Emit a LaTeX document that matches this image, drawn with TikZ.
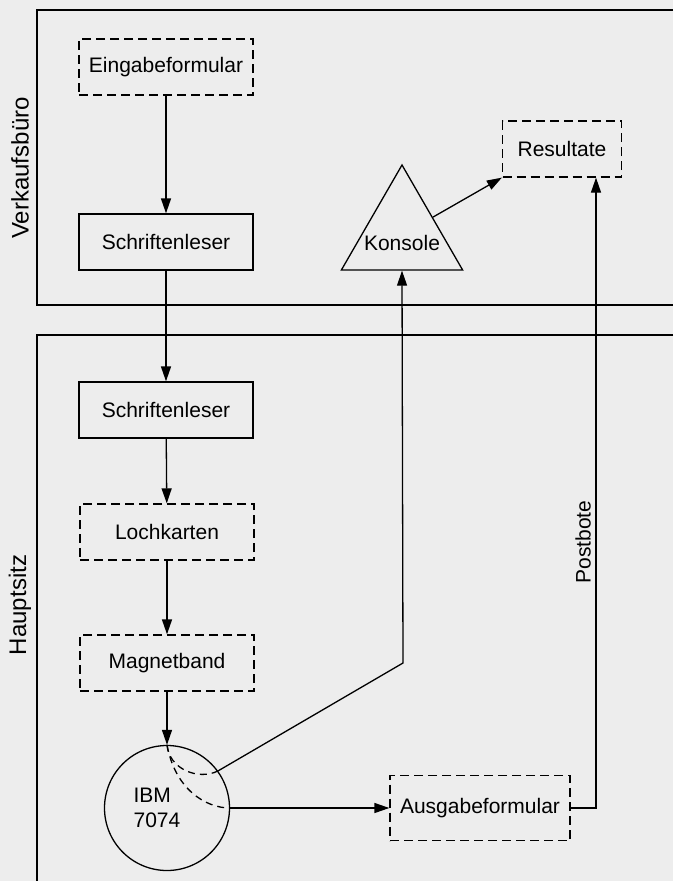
\documentclass[tikz,border=0pt]{standalone}
\usepackage{fontspec}
\setmainfont{Liberation Sans}
\usepackage{tikz}
\usetikzlibrary{arrows.meta,shapes.geometric}

\begin{document}
\begin{tikzpicture}[x=1pt,y=-1pt,->,>={Triangle[length=15pt,width=10pt]},line width=1.3pt,
                    font=\fontsize{21}{25}\selectfont]
                  \tikzstyle{kasten}=[draw,rectangle,minimum width=174pt,minimum height=56pt,inner sep=0pt]
                  \tikzstyle{beleg}=[kasten,dash pattern=on 9pt off 5pt]
                  \tikzstyle{bereich}=[rotate=90,font=\fontsize{24}{28}\selectfont]

                  % Hintergrund
                  \fill[black!7,draw=none] (0,0) rectangle (673,881);
                  \useasboundingbox (0,0) rectangle (673,881);

                  % Bereiche
                  \draw[-] (673,10) -- (37,10) -- (37,305) -- (673,305);
                  \draw[-] (673,335) -- (37,335) -- (37,881);
                  \node[bereich] (verkauf) at (20,168) {Verkaufsbüro};
                  \node[bereich] (haupt)   at (20,605) {Hauptsitz};

                  \node[beleg]   (eingabe)  at (166,67)  {Eingabeformular};
                  \node[kasten]  (leser1)   at (166,242) {Schriftenleser};
                  \node[kasten]  (leser2)   at (166,410) {Schriftenleser};
                  \node[beleg]   (karten)   at (167,532) {Lochkarten};
                  \node[beleg]   (band)     at (167,663) {Magnetband};
                  \node[draw,circle,minimum size=125pt,inner sep=0pt,
                        label={[align=left,xshift=-10pt]center:IBM\\7074}] (ibm) at (167,808) {};
                  \node[draw,regular polygon,regular polygon sides=3,minimum size=140pt,inner sep=0pt,
                        label={[yshift=-8pt]center:Konsole}]
                                 (konsole)  at (402,235) {};
                  \node[beleg,minimum width=119pt] (resultate) at (562,149) {Resultate};
                  \node[beleg,minimum width=180pt,minimum height=65pt] (ausgabe) at (480,808) {Ausgabeformular};
                  \coordinate (knick) at (403,663);
                  \coordinate (post)  at (596,808);
                  \node[rotate=90] (postbote) at (583,542) {Postbote};

                  \path (eingabe) edge (leser1)
                        (leser1)  edge (leser2)
                        (leser2)  edge (karten)
                        (karten)  edge (band)
                        (band)    edge (ibm)
                        (ibm)     edge (ausgabe)
                        (konsole.side 3) edge (resultate.south west);
                  \draw (ibm.36) -- (knick) -- (konsole.south);
                  \draw (ausgabe.east) -- (post) -- (post |- resultate.south);

                  % Pfade im Rechner
                  \draw[-,dash pattern=on 7pt off 5pt] (ibm.north) .. controls +(2,24) and +(-20,10) .. (ibm.36);
                  \draw[-,dash pattern=on 7pt off 5pt] (ibm.north) .. controls +(8,44) and +(-25,0) .. (ibm.east);
                \end{tikzpicture}
\end{document}
